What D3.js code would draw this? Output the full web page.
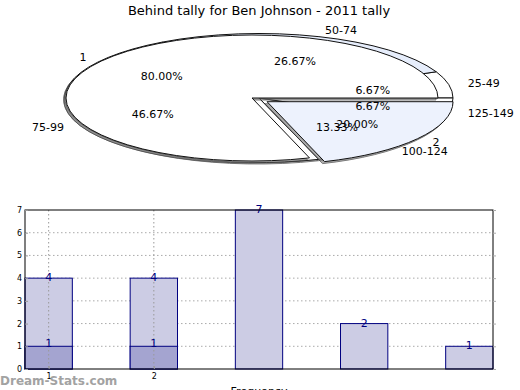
<!DOCTYPE html>
<html><head><meta charset="utf-8">
<script src="https://cdn.jsdelivr.net/npm/d3@7"></script>
<style>body{margin:0;background:#fff;} text{font-family:"DejaVu Sans",sans-serif;}</style>
</head><body>
<svg id="c" width="520" height="390"></svg>
<script>
const title = "Behind tally for Ben Johnson - 2011 tally";
// outer pie (tally groups)
const pieLabelsA = ["25-49","50-74","75-99","100-124","125-149"];
const pieValuesA = [1,4,7,2,1];
// inner pie (behind 1 / 2)
const pieLabelsB = ["1","2"];
const pieValuesB = [12,3];
// bar chart
const barCats = [1,2,3,4,5];
const barValues1 = [4,4,7,2,1];
const barValues2 = [1,1,0,0,0];
const yTicks = [0,1,2,3,4,5,6,7];
const xTicks = [1,2];

const svg = d3.select("#c");
svg.append("text").attr("x",259).attr("y",15).attr("text-anchor","middle")
  .attr("font-size",13).text(title);

// ---- pie ----
function drawPie(labels, values, cfg){
  const {cx,cy,rx,ry,explode,fills,sh} = cfg;
  const sy = ry/rx;
  const arc = d3.arc().innerRadius(0).outerRadius(rx);
  const pie = d3.pie().sort(null).startAngle(Math.PI/2).endAngle(Math.PI/2-2*Math.PI);
  const arcs = pie(values);
  const total = d3.sum(values);
  const data = arcs.map((a,i)=>{
    const mid=(a.startAngle+a.endAngle)/2;
    const phi=Math.PI/2-mid;
    const ex=explode[i]*rx*Math.cos(phi), ey=-explode[i]*ry*Math.sin(phi);
    return {a,i,phi,ex,ey};
  });
  const g = svg.append("g");
  g.selectAll("path.sh").data(data).join("path").attr("class","sh")
    .attr("transform",d=>`translate(${cx+d.ex-sh},${cy+d.ey+sh}) scale(1,${sy})`)
    .attr("d",d=>arc(d.a)).attr("fill","#888").attr("opacity",0.7)
    .attr("stroke","#444").attr("stroke-width",1).attr("vector-effect","non-scaling-stroke");
  g.selectAll("path.sl").data(data).join("path").attr("class","sl")
    .attr("transform",d=>`translate(${cx+d.ex},${cy+d.ey}) scale(1,${sy})`)
    .attr("d",d=>arc(d.a)).attr("fill",d=>fills[d.i])
    .attr("stroke","#111").attr("stroke-width",1).attr("vector-effect","non-scaling-stroke");
  return {data,total,cfg};
}
function pieText(res, labels, values){
  const {data,total,cfg}=res;
  const {cx,cy,rx,ry}=cfg;
  data.forEach(d=>{
    const c=Math.cos(d.phi), s=Math.sin(d.phi);
    svg.append("text").attr("x",cx+d.ex+1.1*rx*c).attr("y",cy+d.ey-1.1*ry*s)
      .attr("dy","0.35em").attr("font-size",11)
      .attr("text-anchor",c>0?"start":"end").text(labels[d.i]);
    svg.append("text").attr("x",cx+d.ex+0.6*rx*c).attr("y",cy+d.ey-0.6*ry*s)
      .attr("dy","0.35em").attr("font-size",11).attr("text-anchor","middle")
      .text((values[d.i]/total*100).toFixed(2)+"%");
  });
}
const resA = drawPie(pieLabelsA,pieValuesA,{cx:259,cy:98,rx:194,ry:64.5,sh:1.5,
  explode:[0,0,0,0,0],fills:["#fff","#e6edfb","#fff","#fff","#fff"]});
const resB = drawPie(pieLabelsB,pieValuesB,{cx:252,cy:98,rx:186,ry:63,sh:2,
  explode:[0,0.1],fills:["#fff","#edf2fd"]});
pieText(resA,pieLabelsA,pieValuesA);
pieText(resB,pieLabelsB,pieValuesB);

// ---- bars ----
const L=25,R=493,T=210,B=369;
const x=d3.scaleLinear().domain([0.775,5.225]).range([L,R]);
const y=d3.scaleLinear().domain([0,7]).range([B,T]);
const bw=x(1.45)-x(1);
const gb=svg.append("g");
gb.selectAll("line.hg").data(yTicks.slice(1,-1)).join("line")
  .attr("x1",L).attr("x2",R).attr("y1",d=>y(d)).attr("y2",d=>y(d))
  .attr("stroke","#aaa").attr("stroke-dasharray","1.5,2.5");
gb.selectAll("rect.b1").data(barCats).join("rect")
  .attr("x",(d)=>x(d)-bw/2).attr("width",bw)
  .attr("y",(d,i)=>y(barValues1[i])).attr("height",(d,i)=>B-y(barValues1[i]))
  .attr("fill","#ccccE4").attr("stroke","#000080").attr("stroke-width",1);
gb.selectAll("rect.b2").data(barCats.filter((d,i)=>barValues2[i]>0)).join("rect")
  .attr("x",(d)=>x(d)-bw/2).attr("width",bw)
  .attr("y",(d)=>y(barValues2[d-1])).attr("height",(d)=>B-y(barValues2[d-1]))
  .attr("fill","#a4a4d0").attr("stroke","#000080").attr("stroke-width",1);
gb.selectAll("line.vg").data(xTicks).join("line")
  .attr("x1",d=>x(d)).attr("x2",d=>x(d)).attr("y1",T).attr("y2",B)
  .attr("stroke","#999").attr("stroke-dasharray","1.5,2.5");
barCats.forEach((d,i)=>{
  gb.append("text").attr("x",x(d)).attr("y",y(barValues1[i])+3).attr("text-anchor","middle")
    .attr("font-size",11).attr("fill","#000080").text(barValues1[i]);
  if(barValues2[i]>0) gb.append("text").attr("x",x(d)).attr("y",y(barValues2[i])+1).attr("text-anchor","middle")
    .attr("font-size",11).attr("fill","#000080").text(barValues2[i]);
});
gb.append("rect").attr("x",L).attr("y",T).attr("width",R-L).attr("height",B-T)
  .attr("fill","none").attr("stroke","#000").attr("stroke-width",1);
const ya=d3.axisLeft(y).tickValues(yTicks).tickSize(-3).tickPadding(3).tickFormat(d3.format("d"));
const yg=svg.append("g").attr("transform",`translate(${L},0)`).call(ya);
yg.select(".domain").remove();
yg.selectAll("text").attr("font-size",8).attr("font-family","DejaVu Sans");
yg.selectAll("line").attr("stroke","#999");
const yr=d3.axisRight(y).tickValues(yTicks).tickSize(3).tickFormat("");
const yrg=svg.append("g").attr("transform",`translate(${R},0)`).call(yr);
yrg.select(".domain").remove(); yrg.selectAll("line").attr("stroke","#aaa");
const xa=d3.axisBottom(x).tickValues(xTicks).tickSize(-3).tickPadding(4).tickFormat(d3.format("d"));
const xg=svg.append("g").attr("transform",`translate(0,${B})`).call(xa);
xg.select(".domain").remove();
xg.selectAll("text").attr("font-size",8).attr("font-family","DejaVu Sans");
xg.selectAll("line").attr("stroke","#999");
svg.append("text").attr("x",259).attr("y",395).attr("text-anchor","middle")
  .attr("font-size",11).text("Frequency");
svg.append("text").attr("x",0).attr("y",385).attr("font-size",12).attr("font-weight","bold")
  .attr("fill","#999").attr("opacity",0.9).text("Dream-Stats.com");
</script>
</body></html>
